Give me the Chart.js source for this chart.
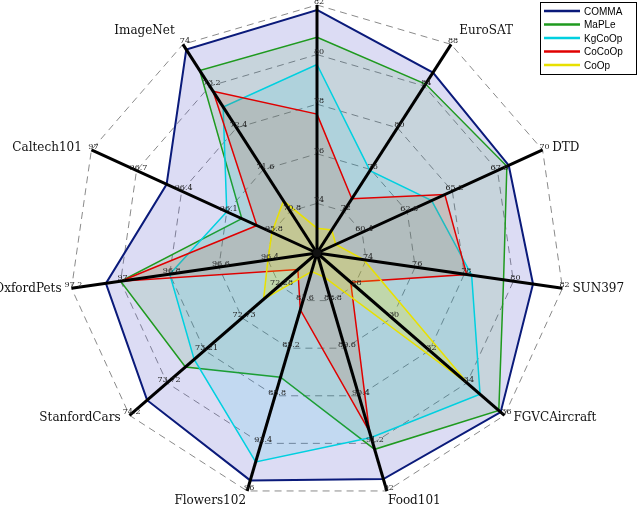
<!DOCTYPE html>
<html>
<head>
<meta charset="utf-8">
<script src="https://cdn.jsdelivr.net/npm/chart.js@4.4.0/dist/chart.umd.min.js"></script>
<style>
  html, body { margin: 0; padding: 0; background: #fff; }
  #wrap { width: 640px; height: 510px; }
</style>
</head>
<body>
<div id="wrap"><canvas id="radar"></canvas></div>
<script>
// axes, clockwise from the top
const axisNames = ['', 'EuroSAT', 'DTD', 'SUN397', 'FGVCAircraft', 'Food101', 'Flowers102', 'StanfordCars', 'OxfordPets', 'Caltech101', 'ImageNet'];
// value at the centre and per ring of each axis
const axisMin  = [72, 68, 58, 72, 26, 88, 78, 71.8, 96.2, 95.5, 70];
const axisStep = [2, 4, 2.4, 2, 2, 0.8, 3.6, 0.47, 0.2, 0.3, 0.8];
// ring labels (rings 1..5) of each axis
const tickLabels = [
  ['74', '76', '78', '80', '82'],
  ['72', '76', '80', '84', '88'],
  ['60.4', '62.8', '65.2', '67.6', '70'],
  ['74', '76', '78', '80', '82'],
  ['28', '30', '32', '34', '36'],
  ['88.8', '89.6', '90.4', '91.2', '92'],
  ['81.6', '85.2', '88.8', '92.4', '96'],
  ['72.28', '72.73', '73.21', '73.72', '74.2'],
  ['96.4', '96.6', '96.8', '97', '97.2'],
  ['95.8', '96.1', '96.4', '96.7', '97'],
  ['70.8', '71.6', '72.4', '73.2', '74']
];

const seriesNames = ['COMMA', 'MaPLe', 'KgCoOp', 'CoCoOp', 'CoOp'];
const comma  = [81.8, 85.3, 68.2, 80.8, 35.8, 91.8, 95.2, 73.93, 97.06, 96.5, 73.9];
const maple  = [80.7, 84.2, 68.1, 79.6, 35.7, 91.3, 87.4, 73.45, 97.0, 96.0, 73.5];
const kgcoop = [79.6, 75.9, 64.1, 78.3, 34.7, 91.1, 93.8, 73.34, 96.8, 96.1, 72.8];
const cocoop = [77.6, 73.2, 64.8, 78.1, 27.8, 91.0, 82.3, 72.04, 97.0, 95.9, 73.1];
const coop   = [73.0, 70.2, 59.0, 73.9, 34.1, 88.4, 79.4, 72.47, 96.4, 95.8, 71.0];

const lineColors = ['#0a1a7a', '#1f9a1f', '#00d0e0', '#e00000', '#e8e000'];
const fillColors = ['rgba(80,80,200,0.2)', 'rgba(40,150,40,0.12)', 'rgba(0,190,210,0.12)', 'rgba(190,80,30,0.16)', 'rgba(255,235,0,0.22)'];

// each axis has its own scale: map to rings 0..5
function toRings(vals) {
  return vals.map((v, i) => (v - axisMin[i]) / axisStep[i]);
}

const allSeries = [comma, maple, kgcoop, cocoop, coop];
const serif = '"DejaVu Serif", "Liberation Serif", serif';

// angle lines, ring labels, axis names and legend drawn over the fills
const overlay = {
  id: 'overlay',
  afterDatasetsDraw(chart) {
    const ctx = chart.ctx;
    const s = chart.scales.r;
    ctx.save();
    for (let i = 0; i < axisNames.length; i++) {
      const p = s.getPointPosition(i, s.getDistanceFromCenterForValue(5));
      ctx.strokeStyle = '#000';
      ctx.lineWidth = 3;
      ctx.beginPath();
      ctx.moveTo(s.xCenter, s.yCenter);
      ctx.lineTo(p.x, p.y);
      ctx.stroke();
      ctx.fillStyle = '#222';
      ctx.font = '8px ' + serif;
      ctx.textAlign = 'center';
      ctx.textBaseline = 'middle';
      for (let k = 1; k <= 5; k++) {
        const q = s.getPointPosition(i, s.getDistanceFromCenterForValue(k));
        ctx.fillText(tickLabels[i][k - 1], q.x + 2, q.y - 3);
      }
      // axis name
      const n = s.getPointPosition(i, s.getDistanceFromCenterForValue(5.08));
      const ang = s.getIndexAngle(i) - Math.PI / 2;
      const c = Math.cos(ang), sn = Math.sin(ang);
      ctx.font = '12px ' + serif;
      ctx.fillStyle = '#111';
      ctx.textAlign = c > 0.3 ? 'left' : (c < -0.3 ? 'right' : 'center');
      let dx = c > 0.3 ? 6 : (c < -0.3 ? -6 : 0);
      let dy = sn > 0.8 ? 6 : (sn < -0.5 ? -10 : 0);
      if (i === 5) dx = 0, ctx.textAlign = 'left';
      if (i === 6) dx = 0, ctx.textAlign = 'right';
      ctx.fillText(axisNames[i], n.x + dx, n.y + dy);
    }
    ctx.beginPath();
    ctx.fillStyle = '#111';
    ctx.arc(s.xCenter, s.yCenter, 4, 0, Math.PI * 2);
    ctx.fill();
    // legend
    const lx = 540, ly = 2;
    ctx.fillStyle = '#fff';
    ctx.strokeStyle = '#000';
    ctx.lineWidth = 1;
    ctx.fillRect(lx, ly, 96, 72);
    ctx.strokeRect(lx + 0.5, ly + 0.5, 96, 72);
    ctx.font = '10px "Liberation Sans", Arial, sans-serif';
    ctx.textAlign = 'left';
    for (let d = 0; d < seriesNames.length; d++) {
      const y = ly + 9 + d * 13.5;
      ctx.strokeStyle = lineColors[d];
      ctx.lineWidth = 2.5;
      ctx.beginPath();
      ctx.moveTo(lx + 4, y);
      ctx.lineTo(lx + 40, y);
      ctx.stroke();
      ctx.fillStyle = '#000';
      ctx.fillText(seriesNames[d], lx + 44, y + 1);
    }
    ctx.restore();
  }
};

new Chart(document.getElementById('radar'), {
  type: 'radar',
  data: {
    labels: axisNames,
    datasets: allSeries.map((vals, d) => ({
      label: seriesNames[d],
      data: toRings(vals),
      borderColor: lineColors[d],
      backgroundColor: fillColors[d],
      borderWidth: d === 0 ? 2 : 1.5,
      fill: true,
      pointRadius: 0,
      order: 5 - d
    }))
  },
  options: {
    responsive: true,
    maintainAspectRatio: false,
    animation: false,
    layout: { padding: { left: 69, right: 75, top: 5, bottom: 9 } },
    plugins: { legend: { display: false }, tooltip: { enabled: false } },
    scales: {
      r: {
        min: 0,
        max: 5,
        ticks: { display: false, stepSize: 1 },
        pointLabels: { display: false },
        angleLines: { display: false },
        grid: { color: '#8a8a8a', lineWidth: 1 },
        border: { dash: [7, 5] }
      }
    }
  },
  plugins: [overlay]
});
</script>
</body>
</html>
